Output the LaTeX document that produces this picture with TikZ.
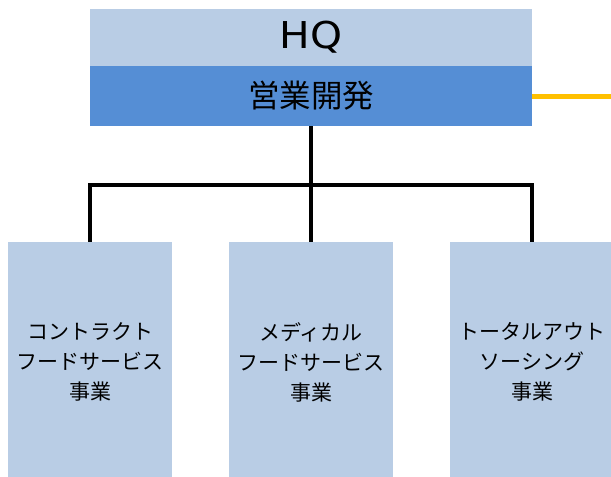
\documentclass[tikz,border=0pt]{standalone}
\usepackage{fontspec}
\setmainfont{Noto Sans CJK JP}
\newfontfamily\latinfont[FakeStretch=1.1]{DejaVu Sans}
\usepackage{tikz}
\definecolor{paleblue}{HTML}{B9CDE5}
\definecolor{midblue}{HTML}{558ED5}
\definecolor{gold}{HTML}{FFC000}

\begin{document}
\begin{tikzpicture}
  [x=1pt,y=-1pt,
   every node/.style={inner sep=0pt,outer sep=0pt,align=center},
   topbox/.style={fill=paleblue,minimum width=442pt,minimum height=57pt,font=\latinfont\fontsize{37}{40}\selectfont},
   salesbox/.style={fill=midblue,minimum width=442pt,minimum height=60pt,font=\fontsize{31.5}{34}\selectfont},
   divbox/.style={fill=paleblue,minimum width=164pt,minimum height=240pt,anchor=north,font=\fontsize{21}{30}\selectfont},
   link/.style={line width=4pt},
   sidelink/.style={gold,line width=5pt}]
  \useasboundingbox (0,0) rectangle (611,477);
  \clip (0,0) rectangle (611,477);
  \node[topbox] (hq) at (311,37.5) {HQ};
  \node[salesbox] (sales) at (311,96) {営業開発};
  \node[divbox] (d1) at (90,242)  {コントラクト\\フードサービス\\事業};
  \node[divbox] (d2) at (311,242) {メディカル\\フードサービス\\事業};
  \node[divbox] (d3) at (532,242) {トータルアウト\\ソーシング\\事業};
  \coordinate (jn) at (311,185);
  \coordinate (edge) at (611,0);

  \draw[link] (sales.south) -- (jn);
  \foreach \to in {d1,d2,d3}
    \draw[link] (jn) -| (\to.north);
  \draw[sidelink] (sales.east) -- (sales.east -| edge);

\end{tikzpicture}
\end{document}
